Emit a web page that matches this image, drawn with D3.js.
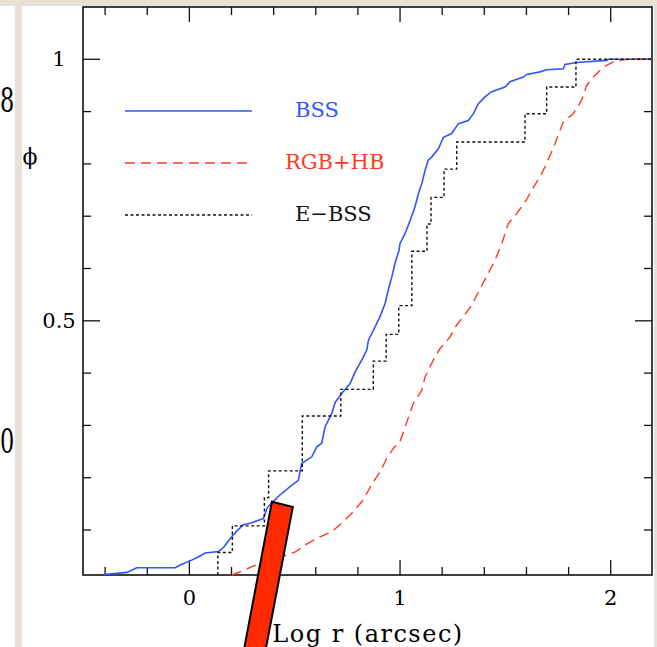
<!DOCTYPE html>
<html>
<head>
<meta charset="utf-8">
<script src="https://cdn.jsdelivr.net/npm/d3@7"></script>
<style>
  body { margin: 0; background: #fff; }
  text { font-family: "DejaVu Serif", "Liberation Serif", serif; }
</style>
</head>
<body>
<div id="chart"></div>
<script>
// cumulative radial distributions
// BSS (blue, solid)
var bssLogR = [-0.405, -0.297, -0.250, -0.068, -0.044, 0.003, 0.035, 0.075, 0.138, 0.161, 0.178, 0.201,
  0.225, 0.256, 0.288, 0.351, 0.369, 0.391, 0.430, 0.478, 0.517, 0.533, 0.581, 0.605, 0.628, 0.644,
  0.676, 0.692, 0.723, 0.763, 0.786, 0.818, 0.842, 0.850, 0.881, 0.905, 0.929, 0.944, 0.961, 0.976,
  0.995, 1.000, 1.024, 1.048, 1.071, 1.087, 1.103, 1.119, 1.134, 1.150, 1.182, 1.206, 1.245, 1.277,
  1.324, 1.348, 1.372, 1.403, 1.435, 1.498, 1.522, 1.585, 1.601, 1.664, 1.696, 1.775, 1.783, 1.839,
  1.981, 1.989, 2.196];
var bssPhi = [0.015, 0.019, 0.028, 0.028, 0.033, 0.041, 0.047, 0.056, 0.059, 0.066, 0.075, 0.087,
  0.098, 0.110, 0.113, 0.122, 0.142, 0.152, 0.167, 0.183, 0.195, 0.227, 0.240, 0.259, 0.266, 0.297,
  0.323, 0.344, 0.361, 0.380, 0.402, 0.425, 0.444, 0.463, 0.488, 0.508, 0.533, 0.559, 0.584, 0.610,
  0.635, 0.648, 0.667, 0.692, 0.718, 0.743, 0.762, 0.788, 0.807, 0.813, 0.829, 0.851, 0.858, 0.877,
  0.883, 0.896, 0.915, 0.928, 0.938, 0.947, 0.957, 0.966, 0.971, 0.976, 0.980, 0.982, 0.990, 0.994,
  0.998, 1.000, 1.000];

// RGB+HB (red, dashed)
var rgbLogR = [0.201, 0.264, 0.296, 0.359, 0.462, 0.502, 0.549, 0.605, 0.676, 0.715, 0.771, 0.818,
  0.842, 0.873, 0.905, 0.937, 0.968, 1.000, 1.024, 1.063, 1.103, 1.119, 1.158, 1.190, 1.237, 1.269,
  1.317, 1.340, 1.372, 1.451, 1.483, 1.514, 1.554, 1.601, 1.625, 1.664, 1.696, 1.736, 1.759, 1.775,
  1.822, 1.862, 1.886, 1.917, 1.965, 2.012, 2.060, 2.092, 2.196];
var rgbPhi = [0.014, 0.024, 0.030, 0.039, 0.052, 0.058, 0.071, 0.084, 0.097, 0.110, 0.132, 0.154,
  0.170, 0.192, 0.211, 0.237, 0.256, 0.269, 0.297, 0.342, 0.367, 0.393, 0.425, 0.447, 0.469, 0.492,
  0.517, 0.530, 0.555, 0.616, 0.648, 0.686, 0.705, 0.732, 0.750, 0.775, 0.801, 0.839, 0.864, 0.880,
  0.896, 0.922, 0.950, 0.966, 0.985, 0.995, 0.999, 1.000, 1.000];

// E-BSS (black, dotted step)
var ebssLogR = [0.135, 0.135, 0.204, 0.356, 0.376, 0.536, 0.719, 0.873, 0.934, 0.994, 1.056, 1.128,
  1.147, 1.209, 1.269, 1.593, 1.696, 1.835, 2.196];
var ebssPhi = [0.014, 0.057, 0.108, 0.162, 0.213, 0.318, 0.369, 0.423, 0.474, 0.529, 0.633, 0.685,
  0.736, 0.790, 0.842, 0.896, 0.947, 1.000, 1.000];

var xTicks = [0, 1, 2];
var yTicks = [0.5, 1];
var seriesNames = ["BSS", "RGB+HB", "E\u2212BSS"];

var svgWidth = 657;
var svgHeight = 647;

var svg = d3.select("#chart")
  .append("svg")
  .attr("width", svgWidth)
  .attr("height", svgHeight);

// stray glyphs from the neighbouring panel, squeezed against the page border
svg.append("text").attr("transform", "translate(0,112) scale(0.68,1)")
  .attr("font-size", 33).text("8");
svg.append("text").attr("transform", "translate(0,453) scale(0.68,1)")
  .attr("font-size", 33).text("0");

// beige page border
var beige = "#e9e1d5";
svg.append("rect").attr("x", 0).attr("y", 0).attr("width", svgWidth).attr("height", 6).attr("fill", beige);
svg.append("rect").attr("x", 15).attr("y", 0).attr("width", 7).attr("height", svgHeight).attr("fill", beige);
svg.append("rect").attr("x", 654).attr("y", 0).attr("width", 3).attr("height", svgHeight).attr("fill", beige);

var box = { left: 83, right: 652, top: 7, bottom: 575 };

var xScale = d3.scaleLinear().domain([-0.505, 2.196]).range([box.left, box.right]);
var yScale = d3.scaleLinear().domain([0.014, 1.1]).range([box.bottom, box.top]);

var chart = svg.append("g");

// ticks on all four sides (pgplot style, pointing inwards)
var xMinor = d3.range(-0.4, 2.2, 0.2).map(d => Math.round(d * 10) / 10);
var yMinor = d3.range(0.1, 1.1, 0.1).map(d => Math.round(d * 10) / 10);

function isMajor(v, majors) { return majors.some(m => Math.abs(m - v) < 1e-6); }

xMinor.forEach(function(v) {
  var len = isMajor(v, xTicks) ? 15 : 8;
  var px = xScale(v);
  chart.append("line").attr("x1", px).attr("x2", px).attr("y1", box.bottom).attr("y2", box.bottom - len)
    .attr("stroke", "#111").attr("stroke-width", 1.3);
  chart.append("line").attr("x1", px).attr("x2", px).attr("y1", box.top).attr("y2", box.top + len)
    .attr("stroke", "#111").attr("stroke-width", 1.3);
});
yMinor.forEach(function(v) {
  var len = isMajor(v, yTicks) ? 17 : 8;
  var py = yScale(v);
  chart.append("line").attr("x1", box.left).attr("x2", box.left + len).attr("y1", py).attr("y2", py)
    .attr("stroke", "#111").attr("stroke-width", 1.3);
  chart.append("line").attr("x1", box.right).attr("x2", box.right - len).attr("y1", py).attr("y2", py)
    .attr("stroke", "#111").attr("stroke-width", 1.3);
});

chart.append("rect")
  .attr("x", box.left).attr("y", box.top)
  .attr("width", box.right - box.left).attr("height", box.bottom - box.top)
  .attr("fill", "none").attr("stroke", "#111").attr("stroke-width", 1.6);

// tick labels
chart.selectAll(".xlab").data(xTicks).enter().append("text")
  .attr("class", "xlab")
  .attr("x", d => xScale(d))
  .attr("y", 605)
  .attr("text-anchor", "middle")
  .attr("font-size", 21)
  .text(d => d);

chart.selectAll(".ylab").data(yTicks).enter().append("text")
  .attr("class", "ylab")
  .attr("x", 59)
  .attr("y", d => yScale(d) + 7)
  .attr("text-anchor", "middle")
  .attr("font-size", 21)
  .text(d => d);

// axis titles
chart.append("text")
  .attr("x", 368).attr("y", 642)
  .attr("text-anchor", "middle")
  .attr("font-size", 24)
  .attr("letter-spacing", 1.5)
  .text("Log r (arcsec)");

chart.append("text")
  .attr("x", 30).attr("y", 164)
  .attr("text-anchor", "middle")
  .attr("font-size", 22)
  .text("\u03d5");

// curves
function pts(xs, ys) { return xs.map((x, i) => [x, ys[i]]); }

var stepLine = d3.line()
  .x(d => xScale(d[0]))
  .y(d => yScale(d[1]))
  .curve(d3.curveStepAfter);

var plainLine = d3.line()
  .x(d => xScale(d[0]))
  .y(d => yScale(d[1]));

var series = [
  { name: seriesNames[0], color: "#2f55ff", dash: null, width: 1.6, path: plainLine(pts(bssLogR, bssPhi)) },
  { name: seriesNames[1], color: "#ff3a22", dash: "10,6", width: 1.4, path: plainLine(pts(rgbLogR, rgbPhi)) },
  { name: seriesNames[2], color: "#111", dash: "3,2.5", width: 1.4, path: stepLine(pts(ebssLogR, ebssPhi)) }
];

chart.selectAll(".curve").data(series).enter().append("path")
  .attr("class", "curve")
  .attr("d", d => d.path)
  .attr("fill", "none")
  .attr("stroke", d => d.color)
  .attr("stroke-width", d => d.width)
  .attr("stroke-dasharray", d => d.dash);

// legend
var legend = chart.selectAll(".legend").data(series).enter().append("g")
  .attr("class", "legend")
  .attr("transform", (d, i) => `translate(0, ${111 + i * 52})`);

legend.append("line")
  .attr("x1", 125).attr("x2", 252)
  .attr("y1", 0).attr("y2", 0)
  .attr("stroke", d => d.color)
  .attr("stroke-width", 1.4)
  .attr("stroke-dasharray", d => d.dash);

legend.append("text")
  .attr("x", (d, i) => i === 1 ? 285 : 295)
  .attr("y", 6)
  .attr("font-size", 21)
  .attr("fill", d => d.color)
  .text(d => d.name);

// red pointer bar overlaid on the figure
var barCorners = [[0.392, 0.154], [0.491, 0.144], [0.352, -0.150], [0.250, -0.148]];
svg.append("polygon")
  .attr("points", barCorners.map(c => [xScale(c[0]), yScale(c[1])].join(",")).join(" "))
  .attr("fill", "#ff2a00")
  .attr("stroke", "#000")
  .attr("stroke-width", 2);
</script>
</body>
</html>
